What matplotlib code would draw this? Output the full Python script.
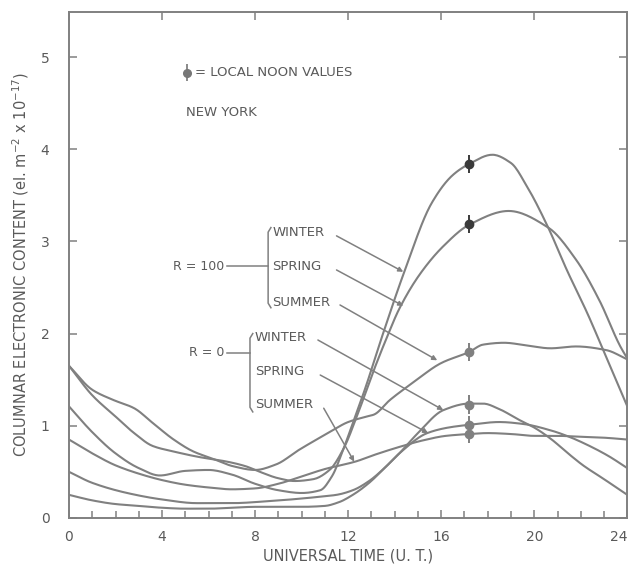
import numpy as np
import matplotlib.pyplot as plt

# Columnar electron content over New York, hour by hour (U.T.), read per curve
hrs_w100 = [0, 1, 2, 3, 3.9, 5, 6, 7, 8, 9, 10, 10.8, 11.3, 11.8, 12.3, 12.7, 13.5,
            14.4, 15.6, 16.5, 17.2, 18.2, 19, 19.7, 20.6, 21.4, 22.3, 23, 24]
tec_w100 = [1.21, 0.93, 0.70, 0.54, 0.46, 0.51, 0.52, 0.47, 0.37, 0.30, 0.27, 0.30, 0.45,
            0.75, 1.10, 1.38, 2.00, 2.66, 3.42, 3.72, 3.84, 3.94, 3.85, 3.59, 3.15, 2.69,
            2.21, 1.80, 1.21]

hrs_s100 = [0, 1, 2, 2.8, 3.6, 4.5, 5.6, 6.8, 7.6, 8.2, 9, 9.7, 10.5, 11.2, 11.8, 12.4,
            13.1, 13.7, 14.2, 15.1, 16.1, 17.2, 18.9, 20.6, 21.8, 22.8, 23.7, 24]
tec_s100 = [1.65, 1.33, 1.10, 0.92, 0.78, 0.72, 0.66, 0.61, 0.56, 0.50, 0.43, 0.40, 0.42,
            0.52, 0.75, 1.12, 1.60, 1.98, 2.27, 2.65, 2.95, 3.18, 3.33, 3.15, 2.80, 2.36,
            1.86, 1.73]

hrs_u100 = [0, 1, 1.9, 2.8, 3.6, 4.5, 5.35, 6.2, 7.06, 8, 8.9, 9.9, 11.2, 12, 12.8, 13.1,
            13.8, 14.8, 16, 17.2, 17.8, 18.7, 19.7, 20.7, 21.8, 23.1, 24]
tec_u100 = [1.65, 1.39, 1.28, 1.19, 1.03, 0.85, 0.72, 0.64, 0.56, 0.52, 0.58, 0.74, 0.93,
            1.04, 1.10, 1.12, 1.28, 1.47, 1.68, 1.80, 1.88, 1.90, 1.87, 1.84, 1.86, 1.82,
            1.72]

hrs_w0 = [0, 1, 2, 3, 4, 5, 6, 7, 8, 9, 10, 11, 11.6, 12.2, 12.9, 13.6, 14.2, 15, 16.1,
          17.2, 17.8, 18.5, 19.3, 20, 20.7, 21.5, 22.1, 23, 24]
tec_w0 = [0.25, 0.19, 0.15, 0.13, 0.11, 0.10, 0.10, 0.11, 0.12, 0.12, 0.12, 0.13, 0.17,
          0.25, 0.38, 0.55, 0.70, 0.92, 1.17, 1.24, 1.24, 1.18, 1.07, 0.98, 0.86, 0.69,
          0.57, 0.42, 0.25]

hrs_s0 = [0, 1, 2.5, 4, 5.5, 7, 8.5, 10, 10.8, 11.5, 12.2, 12.9, 13.6, 14.2, 15.4, 16.3,
          17.2, 18.5, 19.5, 20.7, 21.5, 22.3, 23.2, 24]
tec_s0 = [0.50, 0.38, 0.27, 0.20, 0.16, 0.16, 0.18, 0.21, 0.23, 0.25, 0.30, 0.40, 0.55,
          0.70, 0.92, 0.98, 1.01, 1.04, 1.02, 0.95, 0.88, 0.79, 0.67, 0.54]

hrs_u0 = [0, 1, 2, 3, 4, 5, 6, 7, 8, 9, 10, 11, 12.3, 13.2, 14.2, 15.2, 16.2, 17.2, 18,
          19, 20, 21, 22, 23, 24]
tec_u0 = [0.85, 0.70, 0.57, 0.48, 0.41, 0.36, 0.33, 0.31, 0.32, 0.37, 0.45, 0.53, 0.61,
          0.69, 0.77, 0.84, 0.89, 0.91, 0.92, 0.91, 0.89, 0.89, 0.88, 0.87, 0.85]

# local noon values
noon_hr = 17.2
noon_r100 = [3.84, 3.19]
noon_r0 = [1.80, 1.23, 1.01, 0.91]

GRAY = '#808080'
TXT = '#5a5a5a'


def pchip(x, y, n=400):
    # monotone cubic (Fritsch-Carlson) for a smooth trace through the points
    x = np.asarray(x, float)
    y = np.asarray(y, float)
    h = np.diff(x)
    d = np.diff(y) / h
    m = np.zeros_like(y)
    for k in range(1, len(x) - 1):
        if d[k - 1] * d[k] > 0:
            w1 = 2 * h[k] + h[k - 1]
            w2 = h[k] + 2 * h[k - 1]
            m[k] = (w1 + w2) / (w1 / d[k - 1] + w2 / d[k])
    m[0] = d[0]
    m[-1] = d[-1]
    xs = np.linspace(x[0], x[-1], n)
    i = np.clip(np.searchsorted(x, xs) - 1, 0, len(x) - 2)
    t = (xs - x[i]) / h[i]
    h00 = 2 * t**3 - 3 * t**2 + 1
    h10 = t**3 - 2 * t**2 + t
    h01 = -2 * t**3 + 3 * t**2
    h11 = t**3 - t**2
    ys = h00 * y[i] + h10 * h[i] * m[i] + h01 * y[i + 1] + h11 * h[i] * m[i + 1]
    return xs, ys


fig = plt.figure(figsize=(6.33, 5.66), dpi=100)
ax = fig.add_axes([0.109, 0.085, 0.882, 0.894])

for hh, vv in [(hrs_w100, tec_w100), (hrs_s100, tec_s100), (hrs_u100, tec_u100),
               (hrs_w0, tec_w0), (hrs_s0, tec_s0), (hrs_u0, tec_u0)]:
    xs, ys = pchip(hh, vv)
    ax.plot(xs, ys, color=GRAY, lw=1.5, solid_capstyle='round')

ax.errorbar([noon_hr] * 2, noon_r100, yerr=0.1, fmt='o', ms=6, color='#3a3a3a',
            ecolor='#3a3a3a', elinewidth=1.4, capsize=0, zorder=5)
ax.errorbar([noon_hr] * 4, noon_r0, yerr=0.1, fmt='o', ms=6, color=GRAY,
            ecolor=GRAY, elinewidth=1.4, capsize=0, zorder=5)

# key and site name
ax.errorbar([5.08], [4.83], yerr=0.09, fmt='o', ms=5.5, color='#777777', ecolor='#777777',
            elinewidth=1.2, capsize=0)
ax.text(5.40, 4.83, '= LOCAL NOON VALUES', fontsize=9.5, color=TXT, va='center')
ax.text(5.02, 4.40, 'NEW YORK', fontsize=9.5, color=TXT, va='center')

# brace labels with arrows to the curves
groups = [
    ('R = 100', 2.73, 6.80, 7.70, 8.56, 3.15, 2.28, 8.73,
     [('WINTER', 3.10, (11.50, 3.06), (14.37, 2.67)),
      ('SPRING', 2.73, (11.50, 2.69), (14.37, 2.30)),
      ('SUMMER', 2.34, (11.65, 2.31), (15.83, 1.71))]),
    ('R = 0', 1.79, 6.80, 7.66, 7.78, 2.00, 1.15, 7.98,
     [('WINTER', 1.96, (10.70, 1.93), (16.09, 1.17)),
      ('SPRING', 1.59, (10.80, 1.55), (15.44, 0.92)),
      ('SUMMER', 1.23, (10.95, 1.19), (12.26, 0.61))]),
]
for lab, ly, c0, c1, bx, btop, bbot, tx, items in groups:
    ax.text(c0 - 0.12, ly, lab, fontsize=9, color=TXT, va='center', ha='right')
    ax.plot([c0, c1, bx], [ly, ly, ly], color=GRAY, lw=1.1)
    ax.plot([bx + 0.12, bx, bx, bx + 0.12], [btop, btop - 0.05, bbot + 0.05, bbot],
            color=GRAY, lw=1.1)
    for name, ty, p0, p1 in items:
        ax.text(tx, ty, name, fontsize=9.5, color=TXT, va='center')
        ax.annotate('', xy=p1, xytext=p0,
                    arrowprops=dict(arrowstyle='-|>', color=GRAY, lw=1.1,
                                    mutation_scale=7, shrinkA=0, shrinkB=0))

ax.set_xlim(0, 24)
ax.set_ylim(0, 5.49)
ax.set_xticks(range(0, 25, 4))
ax.set_xticks(range(0, 25), minor=True)
ax.set_yticks(range(0, 6))
ax.tick_params(which='both', direction='in', colors=GRAY, labelcolor=TXT,
               labelsize=10, top=True, right=True)
ax.tick_params(which='major', length=6, width=1.1)
ax.tick_params(which='minor', length=5, width=1.1, top=False)
ax.tick_params(axis='x', pad=9)
ax.tick_params(axis='y', pad=14)
ax.get_xticklabels()[-1].set_horizontalalignment('right')
for s in ax.spines.values():
    s.set_color(GRAY)
    s.set_linewidth(1.4)

ax.set_xlabel('UNIVERSAL TIME (U. T.)', fontsize=10.5, color=TXT, labelpad=3)
ax.set_ylabel(r'COLUMNAR ELECTRONIC CONTENT (el. m$^{-2}$ x 10$^{-17}$)',
              fontsize=10.5, color=TXT, labelpad=7)

fig.savefig('out.png', dpi=100)
